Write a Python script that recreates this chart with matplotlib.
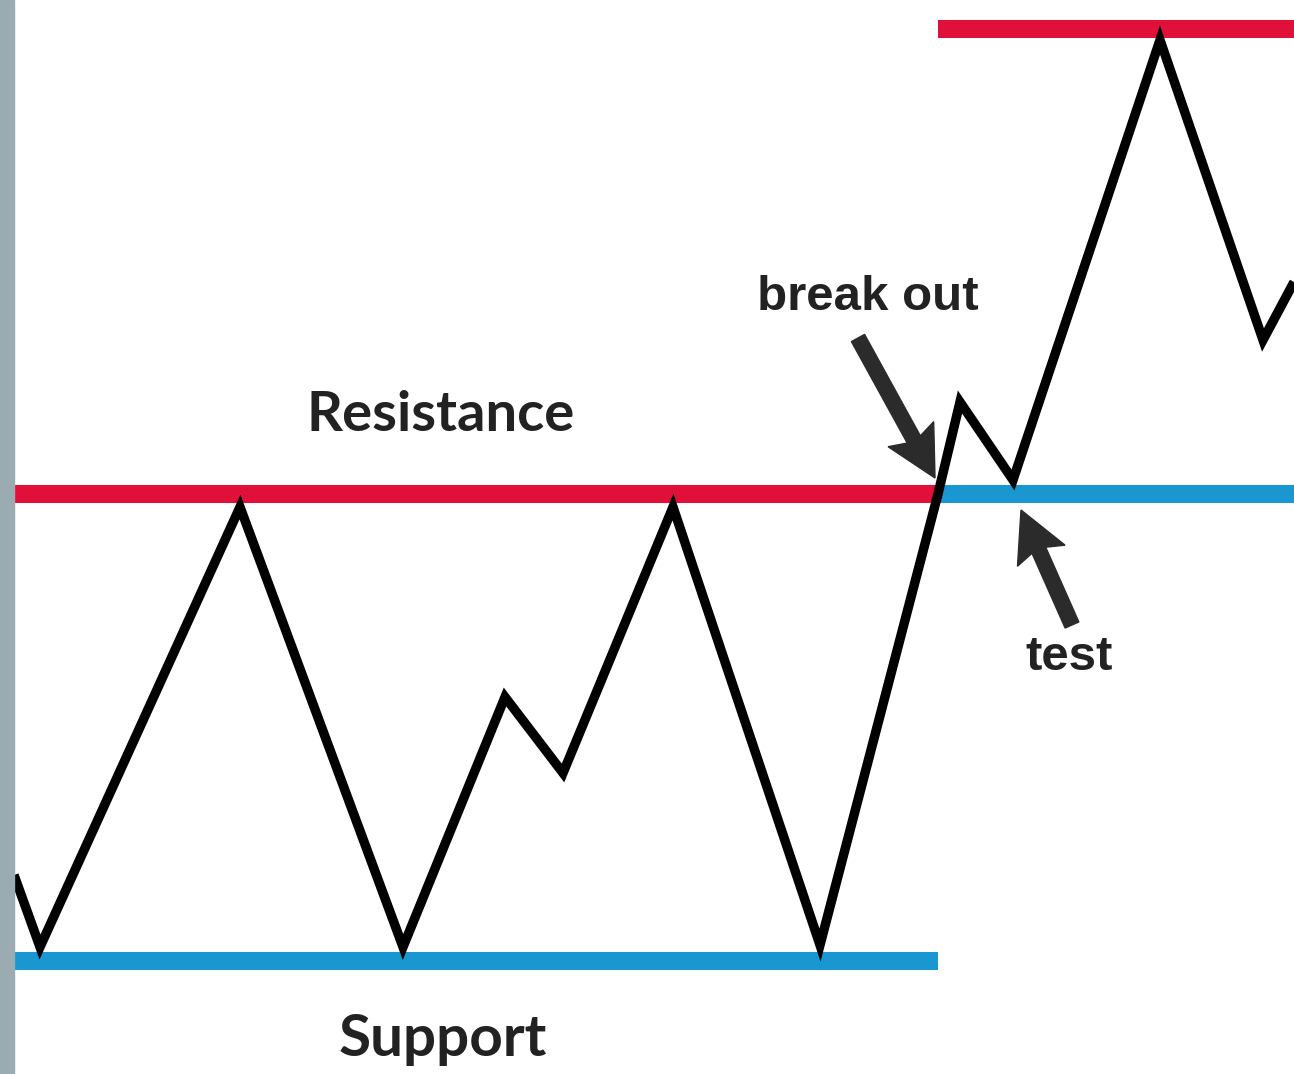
import matplotlib
matplotlib.use("Agg")
import matplotlib.pyplot as plt

# zigzag price path (x position, price level)
path_x = [14, 40, 240, 403, 505, 563, 673, 820, 938, 960, 1013, 1160, 1263, 1294]
path_p = [199, 127, 567, 127, 377, 301, 567, 129, 580, 672, 594, 1034, 734, 792]

# horizontal levels: (x start, x end, price)
resistance = (14, 938, 580)
support = (14, 938, 113)
new_resistance = (938, 1294, 1045)
new_support = (938, 1294, 580)

labels = ["Resistance", "Support", "break out", "test"]
label_pos = [(441, 659), (443, 34), (868, 776), (1069, 417)]
label_size = [40.5, 42, 35.5, 35.5]
label_font = ["Lato", "Lato", "Liberation Sans", "Liberation Sans"]

# arrows: tail -> tip
arrows = [((858, 736), (935, 596)), ((1072, 449), (1021, 564))]

RED = "#e0103a"
BLUE = "#1a96d0"

fig = plt.figure(figsize=(12.94, 10.74), dpi=100)
ax = fig.add_axes([0, 0, 1, 1])
ax.set_xlim(0, 1294)
ax.set_ylim(0, 1074)
ax.axis("off")

# grey border strip on the left
ax.axvspan(0, 14, color="#9aabb1", zorder=5)

for (x0, x1, p), c in [(resistance, RED), (support, BLUE),
                       (new_resistance, RED), (new_support, BLUE)]:
    ax.plot([x0, x1], [p, p], color=c, lw=13, solid_capstyle="butt", zorder=1)

ax.plot(path_x, path_p, color="black", lw=6.8, solid_joinstyle="miter",
        solid_capstyle="butt", zorder=3)

for (t, tip) in arrows:
    ax.arrow(t[0], t[1], tip[0] - t[0], tip[1] - t[1], width=15, head_width=52,
             head_length=50, overhang=0.12, length_includes_head=True,
             facecolor="#2b2b2b", edgecolor="#2b2b2b", lw=1, zorder=4)

for txt, (x, y), s, f in zip(labels, label_pos, label_size, label_font):
    ax.text(x, y, txt, ha="center", va="center", fontsize=s, fontweight="bold",
            family=[f, "DejaVu Sans"], color="#222222", zorder=4)

fig.savefig("out.png", dpi=100)
